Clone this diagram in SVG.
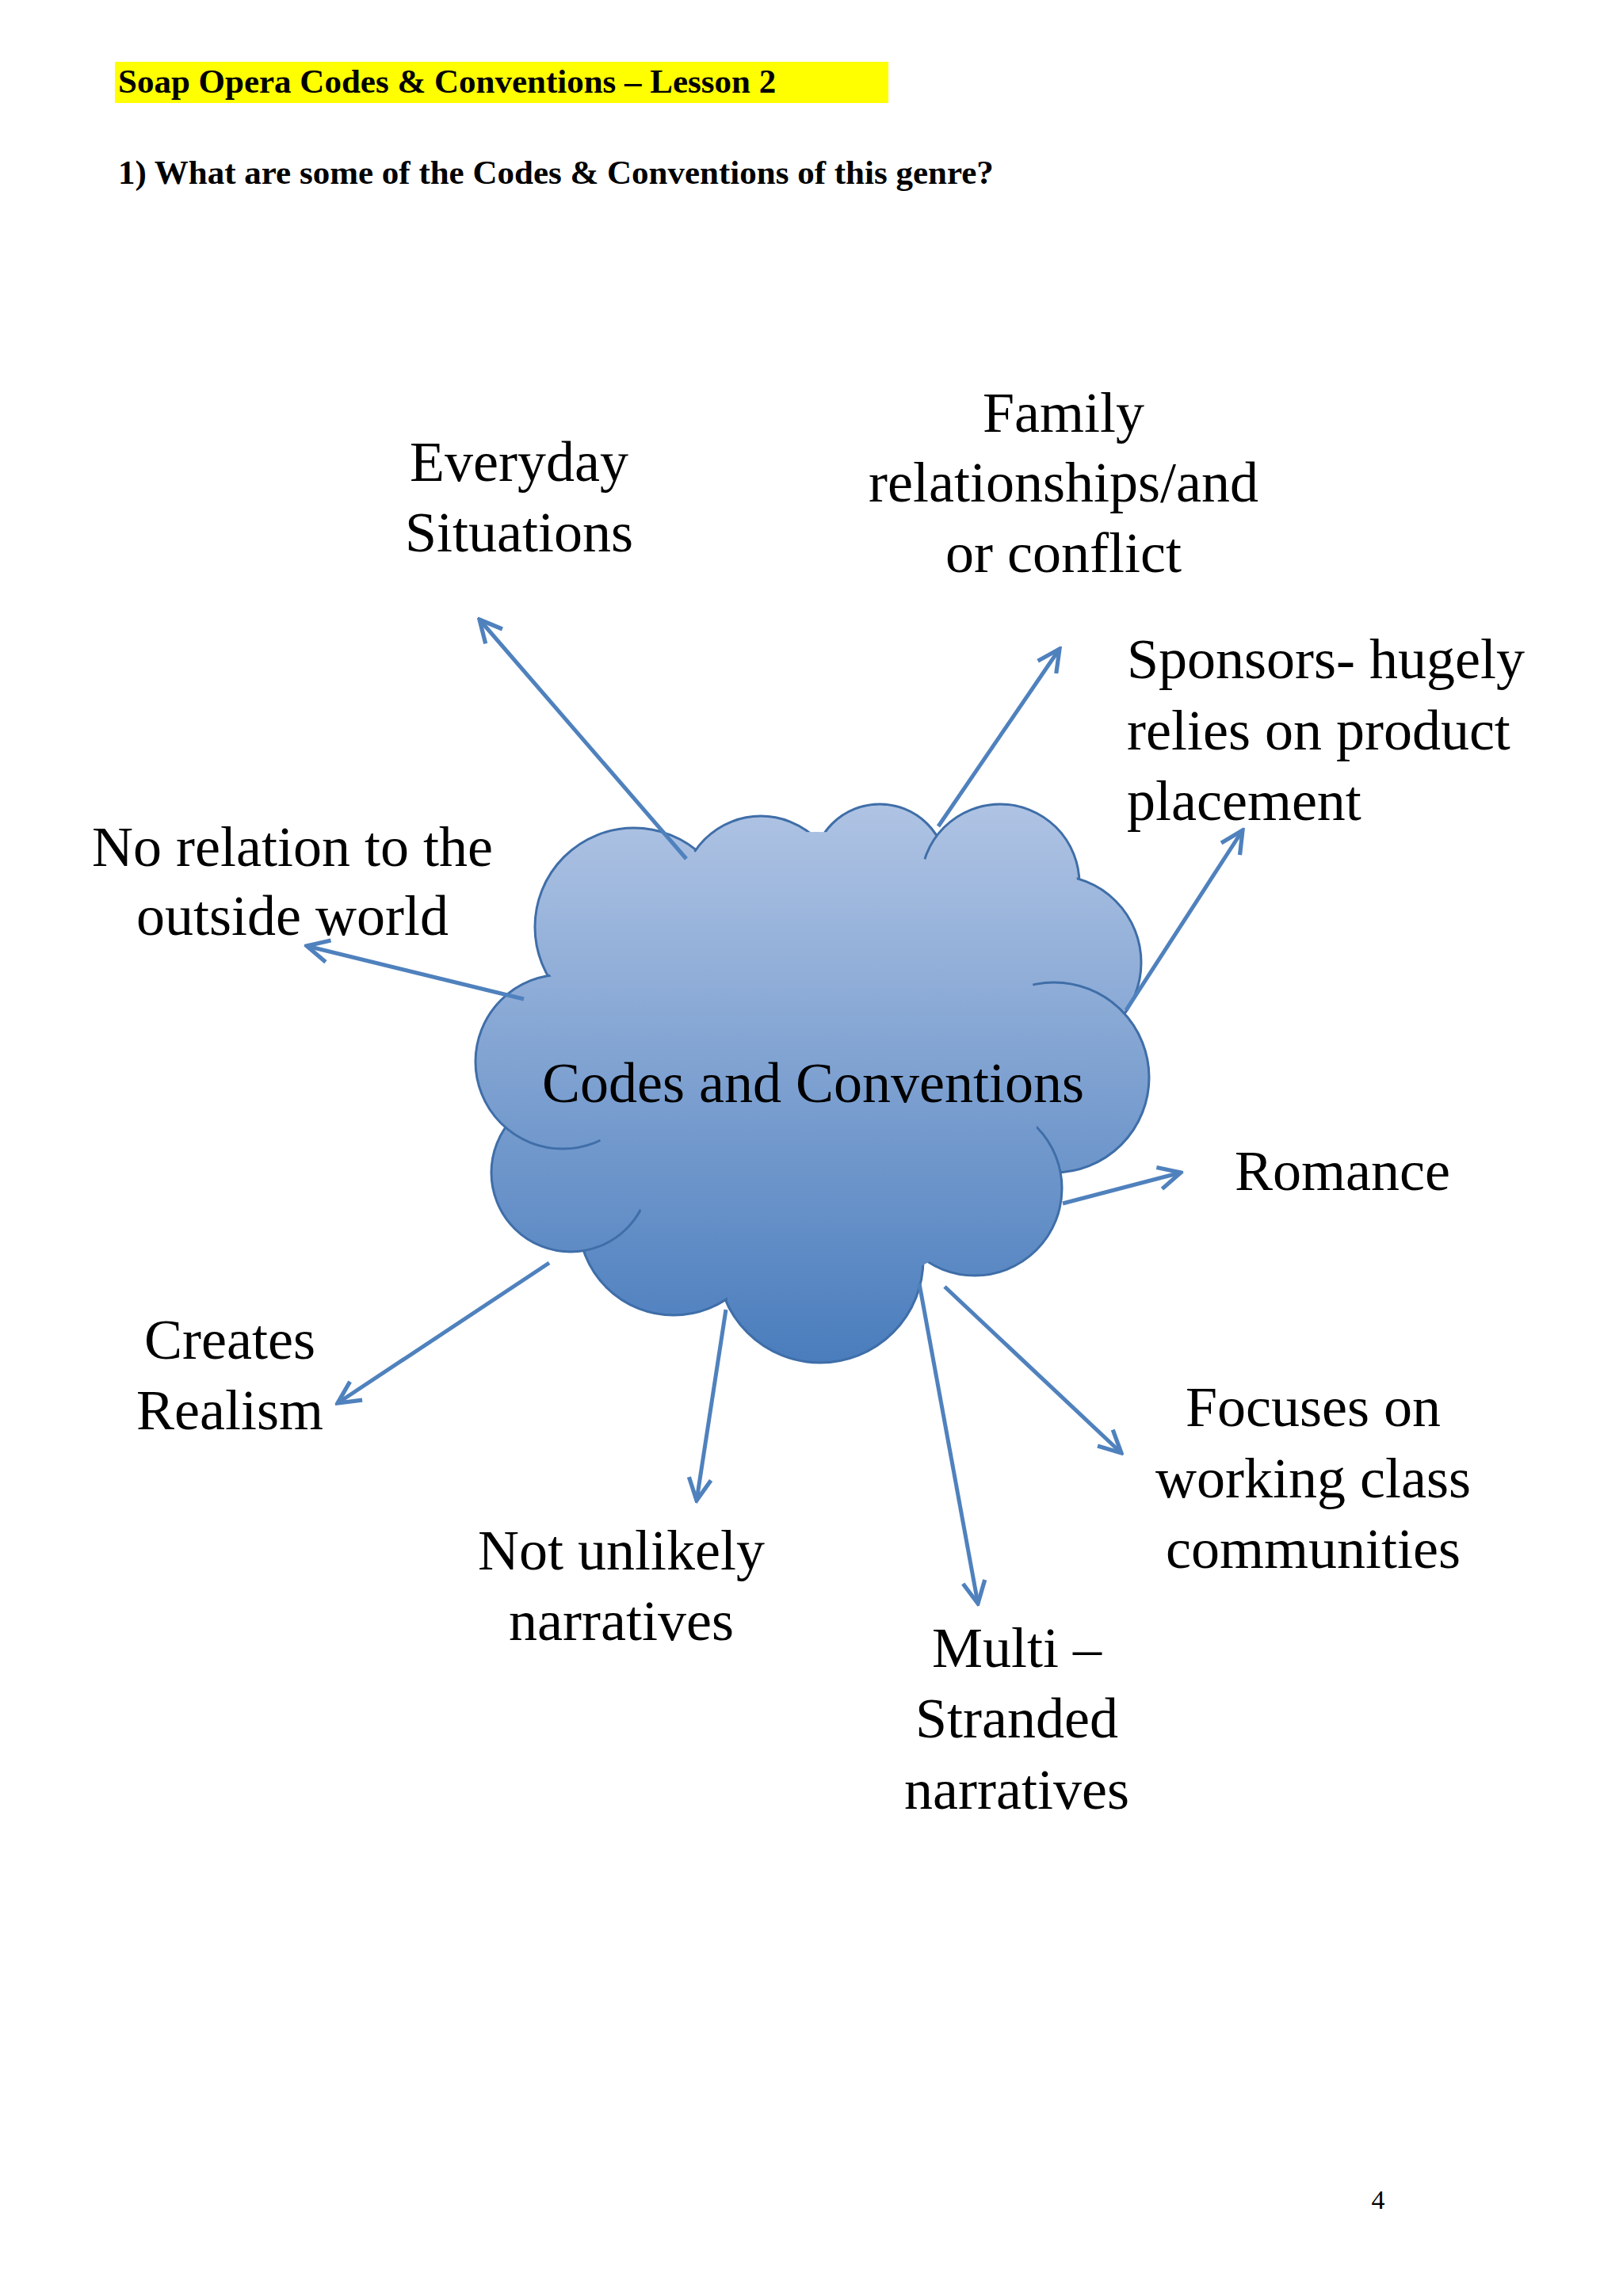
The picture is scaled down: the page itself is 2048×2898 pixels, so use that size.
<svg xmlns="http://www.w3.org/2000/svg" width="2048" height="2898" viewBox="0 0 2048 2898">
<style>
.h{font-family:"Liberation Serif","DejaVu Serif",serif;font-weight:bold;font-size:43px;fill:#000}
.t{font-family:"Liberation Serif","DejaVu Serif",serif;font-size:72px;fill:#000}
.c{text-anchor:middle}
.a{stroke:#4f81bd;stroke-width:5;fill:none;marker-end:url(#m)}
.cl{fill:url(#g);stroke:#3f6ea8;stroke-width:3}
.cf{fill:url(#g)}
</style>
<defs>
<marker id="m" viewBox="0 0 20 20" refX="18" refY="10" markerWidth="7" markerHeight="7" orient="auto" markerUnits="strokeWidth">
<path d="M2,2 L18,10 L2,18" fill="none" stroke="#4f81bd" stroke-width="3"/>
</marker>
<linearGradient id="g" gradientUnits="userSpaceOnUse" x1="0" y1="1010" x2="0" y2="1720">
<stop offset="0" stop-color="#b0c4e4"/><stop offset="1" stop-color="#4a7dbd"/>
</linearGradient>
</defs>
<rect width="2048" height="2898" fill="#fff"/>
<rect x="145" y="78" width="976" height="52" fill="#ffff00"/>
<text class="h" x="149" y="117">Soap Opera Codes &amp; Conventions – Lesson 2</text>
<text class="h" x="149" y="232">1) What are some of the Codes &amp; Conventions of this genre?</text>
<g id="cloud">
<circle class="cl" cx="800" cy="1170" r="125"/>
<circle class="cl" cx="960" cy="1130" r="100"/>
<circle class="cl" cx="1110" cy="1100" r="85"/>
<circle class="cl" cx="1262" cy="1115" r="100"/>
<circle class="cl" cx="1330" cy="1215" r="110"/>
<circle class="cl" cx="1330" cy="1360" r="120"/>
<circle class="cl" cx="1230" cy="1500" r="110"/>
<circle class="cl" cx="1035" cy="1590" r="130"/>
<circle class="cl" cx="850" cy="1540" r="120"/>
<circle class="cl" cx="720" cy="1480" r="100"/>
<circle class="cl" cx="710" cy="1340" r="110"/>
<circle class="cf" cx="1030" cy="1340" r="290"/>
<circle class="cf" cx="800" cy="1170" r="122"/>
<circle class="cf" cx="960" cy="1130" r="97"/>
<circle class="cf" cx="1262" cy="1115" r="97"/>
<circle class="cf" cx="1035" cy="1590" r="127"/>
<text class="t c" x="1026" y="1391">Codes and Conventions</text>
</g>
<g id="connectors">
<line class="a" x1="866" y1="1084" x2="605" y2="782"/>
<line class="a" x1="1184" y1="1043" x2="1337" y2="819"/>
<line class="a" x1="1421" y1="1275" x2="1568" y2="1048"/>
<line class="a" x1="661" y1="1261" x2="387" y2="1194"/>
<line class="a" x1="1341" y1="1519" x2="1490" y2="1480"/>
<line class="a" x1="693" y1="1594" x2="426" y2="1771"/>
<line class="a" x1="916" y1="1653" x2="879" y2="1894"/>
<line class="a" x1="1160" y1="1620" x2="1234" y2="2024"/>
<line class="a" x1="1192" y1="1624" x2="1415" y2="1834"/>
</g>
<g id="n-everyday"><text class="t c" x="655" y="607">Everyday</text><text class="t c" x="655" y="696">Situations</text></g>
<g id="n-family"><text class="t c" x="1342" y="545">Family</text><text class="t c" x="1342" y="633">relationships/and</text><text class="t c" x="1342" y="722">or conflict</text></g>
<g id="n-sponsors"><text class="t" x="1422" y="856">Sponsors- hugely</text><text class="t" x="1422" y="946">relies on product</text><text class="t" x="1422" y="1035">placement</text></g>
<g id="n-norelation"><text class="t c" x="369" y="1093">No relation to the</text><text class="t c" x="369" y="1180">outside world</text></g>
<g id="n-romance"><text class="t c" x="1694" y="1502">Romance</text></g>
<g id="n-realism"><text class="t c" x="290" y="1715">Creates</text><text class="t c" x="290" y="1804">Realism</text></g>
<g id="n-focuses"><text class="t c" x="1657" y="1800">Focuses on</text><text class="t c" x="1657" y="1890">working class</text><text class="t c" x="1657" y="1979">communities</text></g>
<g id="n-notunlikely"><text class="t c" x="784" y="1981">Not unlikely</text><text class="t c" x="784" y="2070">narratives</text></g>
<g id="n-multi"><text class="t c" x="1283" y="2104">Multi –</text><text class="t c" x="1283" y="2193">Stranded</text><text class="t c" x="1283" y="2283">narratives</text></g>
<text x="1739" y="2788" style="font-family:'Liberation Serif',serif;font-size:34px" text-anchor="middle">4</text>
</svg>
